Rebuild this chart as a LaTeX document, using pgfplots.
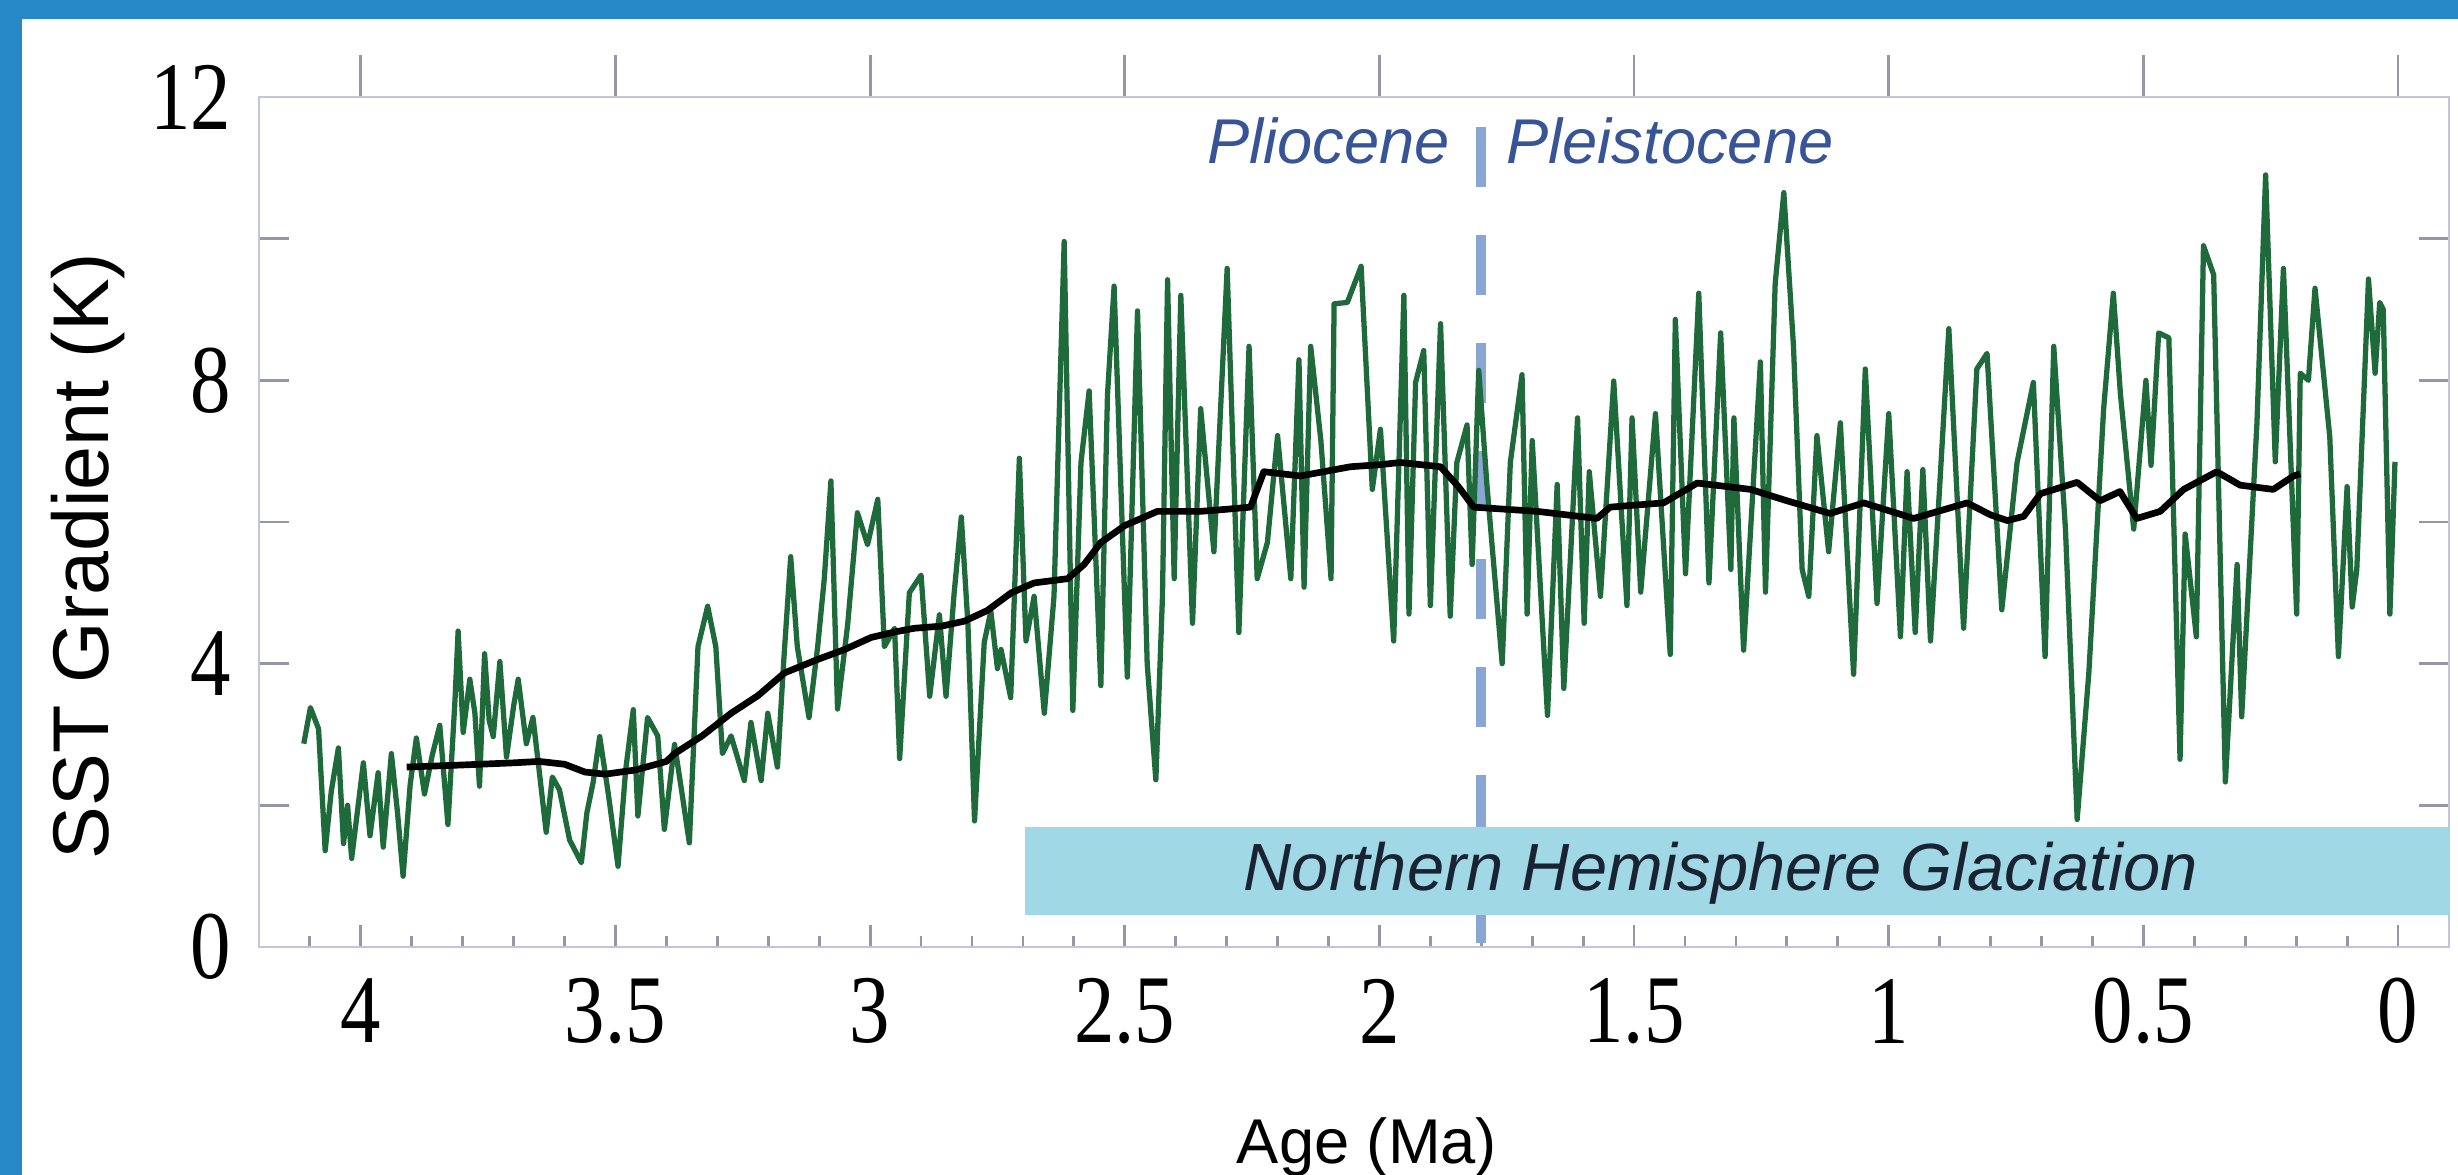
\documentclass[border=0pt]{standalone}
\usepackage{fontspec}
\setmainfont{Liberation Serif}
\newfontfamily\sansf{Liberation Sans}
\newfontfamily\seriff{Liberation Serif}
\usepackage{pgfplots}
\pgfplotsset{compat=1.18}
\definecolor{frameblue}{RGB}{38,137,197}
\definecolor{axisc}{RGB}{196,196,220}
\definecolor{tickc}{RGB}{150,150,168}
\definecolor{greenline}{RGB}{30,106,58}
\definecolor{dashc}{RGB}{138,166,210}
\definecolor{bandc}{RGB}{160,216,230}
\definecolor{epochc}{RGB}{55,85,150}
\definecolor{nhgc}{RGB}{25,35,50}
\begin{document}
\begin{tikzpicture}
\useasboundingbox (0,0) rectangle (245.8mm,-117.5mm);
\fill[white] (0,0) rectangle (245.8mm,-117.5mm);
\fill[frameblue] (0,0) rectangle (245.8mm,-1.9mm);
\fill[frameblue] (0,0) rectangle (2.2mm,-117.5mm);
\begin{axis}[
  at={(25.9mm,-94.7mm)}, anchor=south west,
  scale only axis, width=219mm, height=85mm,
  xmin=-0.1, xmax=4.2, ymin=0, ymax=12,
  x dir=reverse,
  axis line style={draw=axisc, line width=0.8pt},
  xtick={0,0.5,1,1.5,2,2.5,3,3.5,4},
  minor xtick={0.1,0.2,0.3,0.4,0.6,0.7,0.8,0.9,1.1,1.2,1.3,1.4,1.6,1.7,1.8,1.9,2.1,2.2,2.3,2.4,2.6,2.7,2.8,2.9,3.1,3.2,3.3,3.4,3.6,3.7,3.8,3.9,4.1},
  ytick={0,4,8,12}, minor ytick={2,6,10},
  xtick pos=left, ytick pos=both,
  tick align=inside,
  tick style={draw=tickc, line width=0.8pt},
  xtick style={/pgfplots/major tick length=2.2mm, /pgfplots/minor tick length=1.1mm},
  ytick style={/pgfplots/major tick length=3mm, /pgfplots/minor tick length=3mm},
  /pgf/number format/assume math mode=true,
  xticklabel style={font=\seriff\fontsize{23}{27}\selectfont, inner sep=0pt, anchor=center, yshift=-6.4mm, yscale=1.2},
  yticklabel style={font=\seriff\fontsize{23}{27}\selectfont, inner sep=0pt, anchor=east, xshift=-2.7mm, yscale=1.2},
  clip=false,
]
% Pliocene/Pleistocene boundary
\addplot[draw=dashc, line width=2.9pt, dash pattern=on 6mm off 4.8mm] coordinates {(1.8,11.58) (1.8,0)};
% Northern Hemisphere Glaciation band
\addplot[fill=bandc, draw=none] coordinates {(2.696,0.45) (-0.1,0.45) (-0.1,1.69) (2.696,1.69)} -- cycle;
% SST gradient record
\addplot[draw=greenline, line width=1.5pt, line join=round] coordinates {
(4.112,2.87) (4.099,3.38) (4.083,3.08) (4.070,1.36) (4.058,2.20) (4.044,2.81) (4.034,1.46) (4.026,2.00)
(4.018,1.25) (3.995,2.60) (3.982,1.57) (3.966,2.46) (3.956,1.41) (3.940,2.73) (3.928,1.90) (3.917,1.00)
(3.903,2.30) (3.891,2.95) (3.875,2.16) (3.860,2.70) (3.845,3.13) (3.829,1.73) (3.815,3.50) (3.809,4.46)
(3.799,3.03) (3.786,3.78) (3.776,3.30) (3.767,2.27) (3.757,4.14) (3.748,3.20) (3.740,2.97) (3.727,4.03)
(3.714,2.68) (3.700,3.40) (3.691,3.78) (3.675,2.87) (3.662,3.24) (3.650,2.50) (3.636,1.62) (3.624,2.40)
(3.610,2.22) (3.590,1.51) (3.567,1.19) (3.556,1.90) (3.544,2.32) (3.531,2.97) (3.514,2.16) (3.495,1.14)
(3.480,2.50) (3.465,3.35) (3.456,1.85) (3.437,3.24) (3.417,2.98) (3.404,1.66) (3.384,2.86) (3.370,2.20)
(3.355,1.47) (3.338,4.24) (3.319,4.81) (3.303,4.24) (3.290,2.73) (3.273,2.98) (3.247,2.35) (3.234,3.17)
(3.214,2.35) (3.201,3.30) (3.182,2.54) (3.170,4.00) (3.156,5.51) (3.143,4.24) (3.120,3.24) (3.103,4.24)
(3.090,5.20) (3.077,6.58) (3.064,3.36) (3.044,4.56) (3.025,6.13) (3.005,5.68) (2.985,6.32) (2.972,4.24)
(2.952,4.50) (2.942,2.66) (2.923,5.00) (2.900,5.25) (2.883,3.54) (2.864,4.69) (2.851,3.54) (2.835,5.00)
(2.821,6.07) (2.808,4.56) (2.795,1.78) (2.776,4.30) (2.763,4.74) (2.750,3.93) (2.743,4.20) (2.724,3.52)
(2.707,6.90) (2.694,4.32) (2.678,4.95) (2.658,3.30) (2.639,4.95) (2.619,9.96) (2.602,3.34) (2.586,6.84)
(2.570,7.85) (2.547,3.69) (2.534,7.79) (2.521,9.33) (2.495,3.81) (2.475,8.98) (2.456,4.00) (2.439,2.36)
(2.426,4.95) (2.416,9.42) (2.403,5.20) (2.390,9.20) (2.367,4.57) (2.351,7.60) (2.325,5.58) (2.299,9.58)
(2.276,4.44) (2.256,8.48) (2.240,5.20) (2.220,5.71) (2.200,7.22) (2.174,5.20) (2.158,8.29) (2.148,5.08)
(2.135,8.48) (2.115,7.15) (2.095,5.20) (2.089,9.08) (2.063,9.10) (2.036,9.61) (2.014,6.46) (1.998,7.31)
(1.972,4.32) (1.952,9.20) (1.942,4.70) (1.929,7.97) (1.913,8.42) (1.900,4.82) (1.880,8.80) (1.861,4.67)
(1.848,6.84) (1.828,7.37) (1.818,5.40) (1.805,8.14) (1.789,6.53) (1.759,4.00) (1.743,6.84) (1.720,8.08)
(1.710,4.70) (1.700,7.15) (1.670,3.27) (1.651,6.53) (1.638,3.65) (1.611,7.47) (1.598,4.57) (1.588,6.71)
(1.566,4.95) (1.540,7.99) (1.514,4.82) (1.504,7.47) (1.487,5.01) (1.458,7.53) (1.429,4.13) (1.419,8.86)
(1.399,5.27) (1.373,9.23) (1.353,5.14) (1.330,8.67) (1.310,5.33) (1.304,7.47) (1.285,4.19) (1.252,8.26)
(1.242,5.01) (1.223,9.36) (1.206,10.65) (1.187,8.48) (1.170,5.33) (1.157,4.95) (1.141,7.22) (1.118,5.58)
(1.095,7.40) (1.069,3.85) (1.046,8.16) (1.023,4.85) (1.000,7.53) (0.977,4.38) (0.964,6.71) (0.948,4.44)
(0.933,6.74) (0.918,4.32) (0.900,6.50) (0.882,8.73) (0.853,4.50) (0.827,8.16) (0.807,8.38) (0.778,4.76)
(0.748,6.84) (0.716,7.97) (0.693,4.10) (0.676,8.48) (0.653,5.90) (0.630,1.80) (0.607,3.88) (0.578,7.60)
(0.559,9.23) (0.545,7.80) (0.519,5.90) (0.495,8.00) (0.485,6.80) (0.470,8.67) (0.450,8.60) (0.428,2.65)
(0.418,5.83) (0.396,4.38) (0.382,9.90) (0.362,9.49) (0.339,2.33) (0.316,5.40) (0.307,3.25) (0.277,7.40)
(0.260,10.90) (0.241,6.85) (0.225,9.58) (0.199,4.70) (0.192,8.10) (0.176,8.00) (0.163,9.30) (0.134,7.20)
(0.117,4.10) (0.100,6.50) (0.090,4.80) (0.081,5.33) (0.058,9.43) (0.045,8.10) (0.036,9.10) (0.029,9.00)
(0.016,4.70) (0.006,6.85)
};
% smoothed record
\addplot[draw=black, line width=1.9pt, line join=round] coordinates {
(3.910,2.54) (3.800,2.57) (3.700,2.60) (3.650,2.62) (3.600,2.58) (3.560,2.47) (3.520,2.44) (3.460,2.50)
(3.400,2.62) (3.384,2.73) (3.330,2.98) (3.273,3.30) (3.220,3.55) (3.168,3.87) (3.103,4.06) (3.050,4.20)
(2.998,4.37) (2.950,4.45) (2.913,4.50) (2.860,4.53) (2.815,4.60) (2.770,4.75) (2.723,5.00) (2.678,5.14)
(2.612,5.20) (2.580,5.40) (2.547,5.71) (2.500,5.95) (2.436,6.15) (2.351,6.15) (2.300,6.18) (2.253,6.21)
(2.227,6.71) (2.155,6.65) (2.057,6.78) (1.998,6.81) (1.959,6.84) (1.880,6.78) (1.845,6.50) (1.815,6.21)
(1.690,6.15) (1.573,6.05) (1.547,6.21) (1.442,6.27) (1.376,6.55) (1.271,6.46) (1.200,6.30) (1.115,6.12)
(1.049,6.27) (0.951,6.05) (0.846,6.27) (0.800,6.10) (0.767,6.02) (0.735,6.08) (0.702,6.40) (0.630,6.56)
(0.585,6.30) (0.546,6.43) (0.513,6.05) (0.467,6.15) (0.421,6.46) (0.356,6.71) (0.310,6.52) (0.245,6.46)
(0.205,6.65) (0.192,6.68)
};
\node[anchor=east, font=\sansf\itshape\fontsize{18}{22}\selectfont, text=epochc, inner sep=0pt] at (axis cs:1.86,11.38) {Pliocene};
\node[anchor=west, font=\sansf\itshape\fontsize{18}{22}\selectfont, text=epochc, inner sep=0pt] at (axis cs:1.752,11.38) {Pleistocene};
\node[font=\sansf\itshape\fontsize{19}{23}\selectfont, text=nhgc, inner sep=0pt] at (axis cs:1.33,1.04) {Northern Hemisphere Glaciation};
\end{axis}
\begin{axis}[
  at={(25.9mm,-94.7mm)}, anchor=south west,
  scale only axis, width=219mm, height=85mm,
  xmin=-0.1, xmax=4.2, ymin=0, ymax=12,
  x dir=reverse,
  axis x line*=top, axis y line=none,
  xtick={0,0.5,1,1.5,2,2.5,3,3.5,4}, xticklabels={}, minor xtick={},
  tick align=outside, major tick length=4.2mm,
  axis line style={draw=axisc, line width=0.8pt},
  tick style={draw=tickc, line width=0.8pt},
]
\end{axis}
\node[anchor=base, font=\sansf\fontsize{18}{22}\selectfont] at (136.7mm,-116.3mm) {Age (Ma)};
\node[rotate=90, font=\sansf\fontsize{22.5}{26}\selectfont] at (8.8mm,-55.6mm) {SST Gradient (K)};
\end{tikzpicture}
\end{document}
